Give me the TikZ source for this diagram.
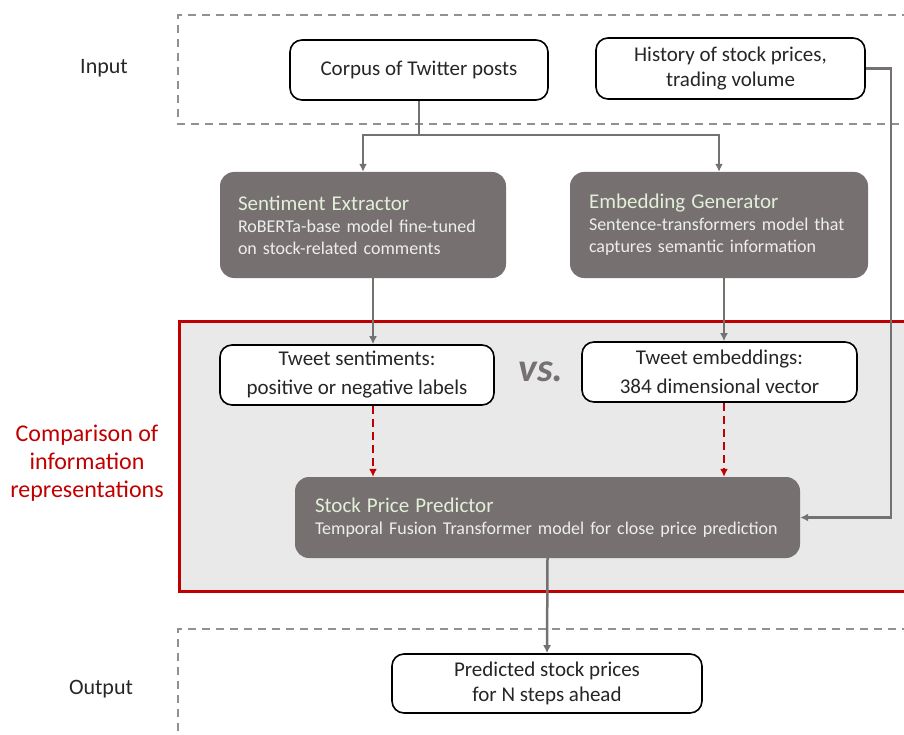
\documentclass[tikz,border=0pt]{standalone}
\usepackage{fontspec}
\setmainfont{Carlito}
\usepackage{xcolor}
\usetikzlibrary{arrows.meta,positioning}
\definecolor{boxgray}{RGB}{118,113,112}
\definecolor{linegray}{RGB}{118,113,113}
\definecolor{dashgray}{RGB}{145,145,145}
\definecolor{cmpred}{RGB}{192,0,0}
\definecolor{cmpfill}{RGB}{233,233,233}
\definecolor{titlegreen}{RGB}{226,239,217}
\definecolor{subgray}{RGB}{238,238,238}
\definecolor{txtdark}{RGB}{38,38,38}
\tikzstyle{conn} = [line width=2.5pt,color=linegray]
\tikzstyle{arrow} = [conn,-{Latex[length=8pt,width=8pt]}]
\tikzstyle{redarrow} = [line width=2.5pt,color=cmpred,dash pattern=on 8pt off 5pt,-{Latex[length=8pt,width=8pt]}]
\tikzstyle{frame} = [line width=1.8pt,color=dashgray,dash pattern=on 8pt off 6pt]
\tikzstyle{databox} = [draw=black,line width=1.6pt,rounded corners=12pt,fill=white,align=center,
  text=txtdark,font=\fontsize{21}{25}\selectfont]
\tikzstyle{modelbox} = [fill=boxgray,rounded corners=14pt,align=left,text=subgray,
  font=\fontsize{18}{22}\selectfont,anchor=center]

\begin{document}
\begin{tikzpicture}[x=1pt,y=-1pt]
\clip (0,0) rectangle (904,735);

% Frames
\draw[frame] (910,15) -- (178,15) -- (178,124) -- (910,124);
\draw[frame] (910,629) -- (178,629) -- (178,745);
\draw[line width=3pt, cmpred, fill=cmpfill] (179,321) rectangle (915,591);

% Side labels
\node[font=\fontsize{22}{26}\selectfont, text=txtdark] (inlbl) at (104,68) {Input};
\node[font=\fontsize{22}{26}\selectfont, text=txtdark] (outlbl) at (101,689) {Output};
\node[font=\fontsize{24}{28}\selectfont, text=cmpred, align=center] (cmplbl) at (87,463)
  {Comparison of\\information\\representations};

% Input data
\node[databox, minimum width=258pt, minimum height=60pt] (corpus) at (419,70) {Corpus of Twitter posts};
\node[databox, minimum width=269pt, minimum height=61pt] (hist) at (730.5,68.5) {History of stock prices,\\trading volume};

% Models
\node[modelbox, minimum width=286pt, minimum height=106pt, text width=250pt, inner xsep=18pt] (sent) at (363,225)
  {{\fontsize{21}{24}\selectfont\color{titlegreen}Sentiment Extractor}\\RoBERTa-base model fine-tuned\\on stock-related comments};
\node[modelbox, minimum width=298pt, minimum height=106pt, text width=260pt, inner xsep=19pt] (embed) at (719,225)
  {{\fontsize{21}{24}\selectfont\color{titlegreen}Embedding Generator}\\Sentence-transformers model that\\captures semantic information};

% Representations
\node[databox, minimum width=274pt, minimum height=60pt, font=\fontsize{21}{29}\selectfont] (tsent) at (357,375) {Tweet sentiments:\\positive or negative labels};
\node[font=\bfseries\itshape\fontsize{40}{40}\selectfont, text=linegray] (vs) at (541,372) {vs.};
\node[databox, minimum width=275pt, minimum height=60pt, font=\fontsize{21}{29}\selectfont] (temb) at (719.5,372) {Tweet embeddings:\\384 dimensional vector};

% Predictor
\node[modelbox, minimum width=505pt, minimum height=81pt, text width=465pt, inner xsep=20pt] (pred) at (547.5,517.5)
  {{\fontsize{21}{24}\selectfont\color{titlegreen}Stock Price Predictor}\\Temporal Fusion Transformer model for close price prediction};

% Output
\node[databox, minimum width=310pt, minimum height=59pt] (out) at (547,683.5) {Predicted stock prices\\for N steps ahead};

% Connectors
\coordinate (split) at (419,135);
\coordinate (lx) at (373,0);
\coordinate (rx) at (724,0);
\draw[conn] (corpus.south) -- (split);
\draw[arrow] (split) -| (sent.north);
\draw[arrow] (split) -| (embed.north);
\draw[arrow] (lx |- sent.south) -- (lx |- tsent.north);
\draw[arrow] (rx |- embed.south) -- (rx |- temb.north);
\draw[redarrow] (lx |- tsent.south) -- (lx |- pred.north);
\draw[redarrow] (rx |- temb.south) -- (rx |- pred.north);
\draw[arrow] (hist.east) -- ++(25,0) |- (pred.east);
\draw[arrow] (pred.south) -- (out.north);
\end{tikzpicture}
\end{document}
